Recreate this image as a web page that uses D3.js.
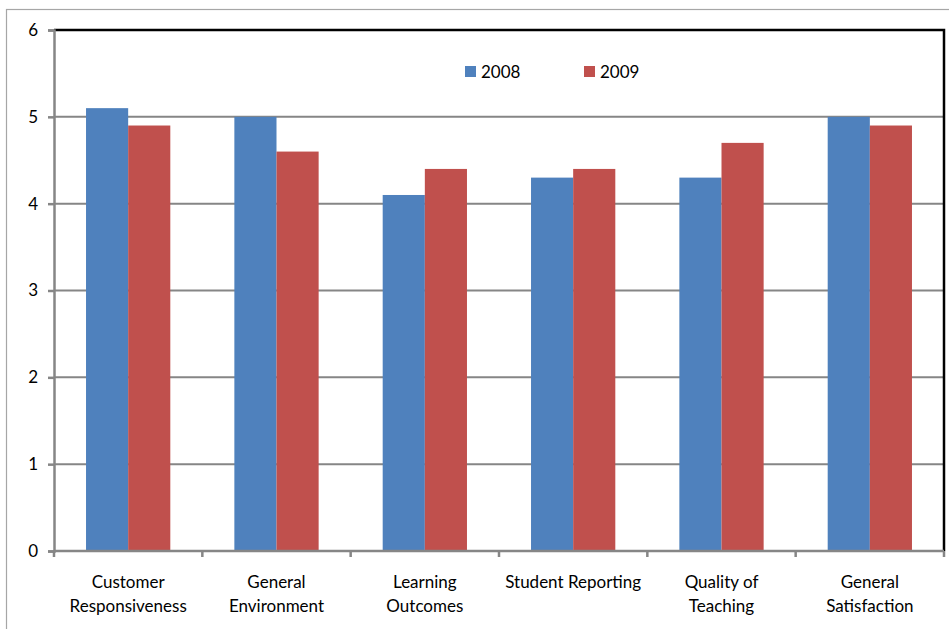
<!DOCTYPE html>
<html>
<head>
<meta charset="utf-8">
<script src="https://cdn.jsdelivr.net/npm/d3@7"></script>
<style>
  html, body { margin: 0; padding: 0; background: #fff; }
  svg { display: block; }
  text { font-family: Lato, "Open Sans", "Liberation Sans", sans-serif; fill: #000; }
</style>
</head>
<body>
<svg id="chart" width="949" height="629"></svg>
<script>
// Survey scores by category, two years
const categories = [
  ["Customer", "Responsiveness"],
  ["General", "Environment"],
  ["Learning", "Outcomes"],
  ["Student Reporting"],
  ["Quality of", "Teaching"],
  ["General", "Satisfaction"]
];
const seriesNames = ["2008", "2009"];
const values2008 = [5.1, 5.0, 4.1, 4.3, 4.3, 5.0];
const values2009 = [4.9, 4.6, 4.4, 4.4, 4.7, 4.9];
const yTicks = [0, 1, 2, 3, 4, 5, 6];
const colors = ["#4F81BD", "#C0504D"];

const svg = d3.select("#chart");

// outer chart frame
svg.append("rect")
  .attr("x", 6.5).attr("y", 9.5)
  .attr("width", 960).attr("height", 640)
  .attr("fill", "none").attr("stroke", "#a6a6a6").attr("stroke-width", 1.2);

const plot = { left: 54, right: 944, top: 30, bottom: 551 };

const x0 = d3.scaleBand()
  .domain(d3.range(categories.length))
  .range([plot.left, plot.right])
  .paddingInner(0).paddingOuter(0);

const x1 = d3.scaleBand()
  .domain(seriesNames)
  .range([0, x0.bandwidth()])
  .paddingInner(0)
  .paddingOuter(0.76);

const y = d3.scaleLinear().domain([0, 6]).range([plot.bottom, plot.top]);

// horizontal gridlines
svg.append("g").selectAll("line")
  .data(yTicks.filter(t => t > 0 && t < 6))
  .join("line")
  .attr("x1", plot.left).attr("x2", plot.right)
  .attr("y1", d => y(d)).attr("y2", d => y(d))
  .attr("stroke", "#868686").attr("stroke-width", 2);

// bars
const series = [values2008, values2009];
const groups = svg.append("g").selectAll("g")
  .data(categories.map((c, i) => i))
  .join("g")
  .attr("transform", i => `translate(${x0(i)},0)`);

groups.selectAll("rect")
  .data(i => seriesNames.map((s, k) => ({ s, k, v: series[k][i] })))
  .join("rect")
  .attr("x", d => x1(d.s))
  .attr("width", x1.bandwidth())
  .attr("y", d => y(d.v))
  .attr("height", d => y(0) - y(d.v))
  .attr("fill", d => colors[d.k]);

// plot border: top and right in black
svg.append("path")
  .attr("d", `M${plot.left},${plot.top}H${plot.right}V${plot.bottom}`)
  .attr("fill", "none").attr("stroke", "#000").attr("stroke-width", 2.5);

// y axis
const yAxis = d3.axisLeft(y).tickValues(yTicks).tickSize(6).tickPadding(10).tickFormat(d3.format("d"));
const gy = svg.append("g").attr("transform", `translate(${plot.left},0)`).call(yAxis);
gy.select(".domain").attr("stroke", "#868686").attr("stroke-width", 2.5);
gy.selectAll(".tick line").attr("stroke", "#868686").attr("stroke-width", 2.5);
gy.selectAll(".tick text").style("font-size", "17px").attr("fill", "#000");

// x axis with ticks at category boundaries
const gx = svg.append("g").attr("transform", `translate(0,${plot.bottom})`);
gx.append("line")
  .attr("x1", plot.left).attr("x2", plot.right)
  .attr("stroke", "#868686").attr("stroke-width", 2.5);
gx.selectAll("line.tk")
  .data(d3.range(categories.length + 1))
  .join("line").attr("class", "tk")
  .attr("x1", i => i < categories.length ? x0(i) : plot.right)
  .attr("x2", i => i < categories.length ? x0(i) : plot.right)
  .attr("y1", 0).attr("y2", 6)
  .attr("stroke", "#868686").attr("stroke-width", 2.5);

const labels = gx.selectAll("text.cat")
  .data(categories)
  .join("text").attr("class", "cat")
  .attr("text-anchor", "middle")
  .style("font-size", "17px")
  .attr("transform", (d, i) => `translate(${x0(i) + x0.bandwidth() / 2},0)`);
labels.selectAll("tspan")
  .data(d => d)
  .join("tspan")
  .attr("x", 0)
  .attr("y", (d, j) => 37 + j * 24)
  .text(d => d);

// legend
const legendX = [465, 584];
const legend = svg.append("g").selectAll("g")
  .data(seriesNames)
  .join("g")
  .attr("transform", (d, i) => `translate(${legendX[i]},66)`);
legend.append("rect")
  .attr("width", 11).attr("height", 11)
  .attr("fill", (d, i) => colors[i]);
legend.append("text")
  .attr("x", 16).attr("y", 11.5)
  .style("font-size", "17px")
  .text(d => d);
</script>
</body>
</html>
